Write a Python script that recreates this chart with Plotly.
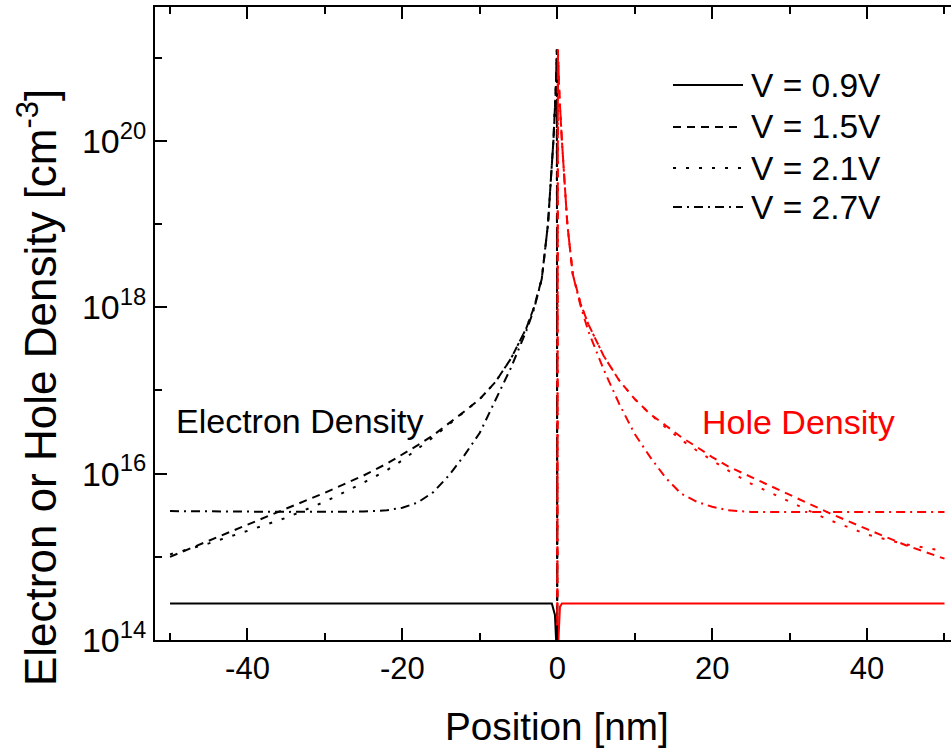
import plotly.graph_objects as go

# ---------------- data ----------------
x_electron = [-50, -45, -40, -35, -30, -25, -22, -20, -18, -16, -14, -12, -10,
              -8, -6, -4, -3, -2, -1.2, -0.5, -0.2, -0.05, 0]
n_e_15 = [1.0e15, 1.55e15, 2.4e15, 3.8e15, 5.9e15, 9.5e15, 1.32e16, 1.7e16, 2.2e16,
          2.9e16, 4.0e16, 5.6e16, 7.9e16, 1.26e17, 2.4e17, 5.6e17, 1.0e18, 2.2e18,
          1.0e19, 1.0e20, 4.0e20, 1.26e21, 1e13]
n_e_21 = [1.07e15, 1.45e15, 2.05e15, 2.95e15, 4.6e15, 7.8e15, 1.1e16, 1.45e16, 2.0e16,
          2.75e16, 3.9e16, 5.5e16, 7.9e16, 1.26e17, 2.4e17, 5.6e17, 1.0e18, 2.2e18,
          1.0e19, 1.0e20, 4.0e20, 1.26e21, 1e13]
n_e_27 = [3.55e15, 3.55e15, 3.5e15, 3.47e15, 3.47e15, 3.5e15, 3.63e15, 3.9e15, 4.5e15,
          6.0e15, 9.5e15, 1.66e16, 3.1e16, 7.6e16, 1.86e17, 5.2e17, 9.5e17, 2.2e18,
          1.0e19, 1.0e20, 4.0e20, 1.26e21, 1e13]
x_e_09 = [-50, -30, -10, -0.7, -0.3, -0.15, 0]
n_e_09 = [2.75e14, 2.75e14, 2.75e14, 2.75e14, 2.0e14, 1.0e14, 1e13]

x_hole = [0, 0.08, 0.25, 0.6, 1.3, 2, 3, 4, 6, 8, 10, 12, 14, 16, 18, 20, 22,
          25, 30, 35, 40, 45, 50]
n_h_15 = [1e13, 1.26e21, 4.0e20, 1.0e20, 1.0e19, 2.5e18, 1.12e18, 6.3e17, 2.6e17,
          1.32e17, 7.9e16, 5.2e16, 3.8e16, 2.75e16, 2.1e16, 1.58e16, 1.23e16,
          9.1e15, 5.6e15, 3.4e15, 2.15e15, 1.38e15, 9.5e14]
n_h_21 = [1e13, 1.26e21, 4.0e20, 1.0e20, 1.0e19, 2.5e18, 1.12e18, 6.3e17, 2.6e17,
          1.32e17, 7.9e16, 5.2e16, 3.6e16, 2.55e16, 1.9e16, 1.45e16, 1.1e16,
          7.6e15, 4.6e15, 2.8e15, 1.86e15, 1.41e15, 1.17e15]
n_h_27 = [1e13, 1.26e21, 4.0e20, 1.0e20, 1.0e19, 2.5e18, 1.05e18, 5.2e17, 1.78e17,
          6.9e16, 3.0e16, 1.58e16, 8.9e15, 5.75e15, 4.6e15, 4.0e15, 3.63e15,
          3.47e15, 3.47e15, 3.47e15, 3.47e15, 3.47e15, 3.47e15]
x_h_09 = [0, 0.15, 0.35, 0.6, 10, 30, 50]
n_h_09 = [1e13, 1.0e14, 2.5e14, 2.75e14, 2.75e14, 2.75e14, 2.75e14]

legend_labels = ["V = 0.9V", "V = 1.5V", "V = 2.1V", "V = 2.7V"]
x_major = [-40, -20, 0, 20, 40]
x_major_text = ["-40", "-20", "0", "20", "40"]
x_minor = [-50, -30, -10, 10, 30, 50]
y_major = [1e14, 1e16, 1e18, 1e20]
y_major_text = ["10<sup>14</sup>", "10<sup>16</sup>", "10<sup>18</sup>", "10<sup>20</sup>"]
y_minor = [1e15, 1e17, 1e19, 1e21]

# ---------------- styling ----------------
FONT = "Liberation Sans, Arial, sans-serif"
BLACK = "#000000"
RED = "#ff0000"
DASHES = ["solid", "8px,6px", "3px,10px", "9px,5px,2px,5px"]

W, H = 951, 751
L, R, T, B = 155, 0, 7, 111
PW, PH = W - L - R, H - T - B


def px(x):
    return (x - L) / PW


def py(y):
    return (H - B - y) / PH


fig = go.Figure()

e_series = [(x_e_09, n_e_09), (x_electron, n_e_15), (x_electron, n_e_21), (x_electron, n_e_27)]
h_series = [(x_h_09, n_h_09), (x_hole, n_h_15), (x_hole, n_h_21), (x_hole, n_h_27)]

for (xs, ys), dash, name in zip(e_series, DASHES, legend_labels):
    fig.add_trace(go.Scatter(x=xs, y=ys, mode="lines", name=name, showlegend=False,
                             line=dict(color=BLACK, width=2, dash=dash)))
for (xs, ys), dash, name in zip(h_series, DASHES, legend_labels):
    fig.add_trace(go.Scatter(x=xs, y=ys, mode="lines", name=name, showlegend=False,
                             line=dict(color=RED, width=2, dash=dash)))

# legend drawn as shapes + text
leg_y = [85, 127, 168, 207]
shapes = []
annotations = []
for yy, dash, lab in zip(leg_y, DASHES, legend_labels):
    shapes.append(dict(type="line", xref="paper", yref="paper",
                       x0=px(673), x1=px(743), y0=py(yy), y1=py(yy),
                       line=dict(color=BLACK, width=2, dash=dash)))
    annotations.append(dict(text=lab, xref="paper", yref="paper", x=px(749), y=py(yy),
                            xanchor="left", yanchor="middle", showarrow=False,
                            font=dict(family=FONT, size=33.5, color=BLACK)))

annotations += [
    dict(text="Electron Density", xref="paper", yref="paper", x=px(300), y=py(421),
         xanchor="center", yanchor="middle", showarrow=False,
         font=dict(family=FONT, size=34, color=BLACK)),
    dict(text="Hole Density", xref="paper", yref="paper", x=px(798), y=py(422),
         xanchor="center", yanchor="middle", showarrow=False,
         font=dict(family=FONT, size=34, color=RED)),
    dict(text="Position [nm]", xref="paper", yref="paper", x=px(557), y=py(726),
         xanchor="center", yanchor="middle", showarrow=False,
         font=dict(family=FONT, size=38.7, color=BLACK)),
    dict(text="Electron or Hole Density [cm<sup>-3</sup>]", xref="paper", yref="paper",
         x=px(37), y=py(388), xanchor="center", yanchor="middle", textangle=-90,
         showarrow=False, font=dict(family=FONT, size=44, color=BLACK)),
]

fig.update_layout(
    width=W, height=H,
    margin=dict(l=L, r=R, t=T, b=B, pad=0),
    paper_bgcolor="white", plot_bgcolor="white",
    showlegend=False,
    font=dict(family=FONT, color=BLACK),
    shapes=shapes, annotations=annotations,
    xaxis=dict(range=[-51.94, 50.84], showgrid=False, zeroline=False,
               showline=True, linecolor=BLACK, linewidth=2, mirror="ticks",
               ticks="inside", ticklen=12, tickwidth=2, tickcolor=BLACK,
               tickmode="array", tickvals=x_major, ticktext=x_major_text,
               tickfont=dict(family=FONT, size=31, color=BLACK),
               minor=dict(tickmode="array", tickvals=x_minor, ticks="inside",
                          ticklen=7, tickwidth=2, tickcolor=BLACK, showgrid=False)),
    yaxis=dict(type="log", range=[14, 21.611], showgrid=False, zeroline=False,
               showline=True, linecolor=BLACK, linewidth=2, mirror=False,
               ticks="inside", ticklen=12, tickwidth=2, tickcolor=BLACK,
               tickmode="array", tickvals=y_major, ticktext=y_major_text,
               tickfont=dict(family=FONT, size=34, color=BLACK),
               minor=dict(tickmode="array", tickvals=y_minor, ticks="inside",
                          ticklen=7, tickwidth=2, tickcolor=BLACK, showgrid=False)),
)

fig.write_html("out.html", config={"displayModeBar": False},
               post_script="document.body.style.margin='0px';")
